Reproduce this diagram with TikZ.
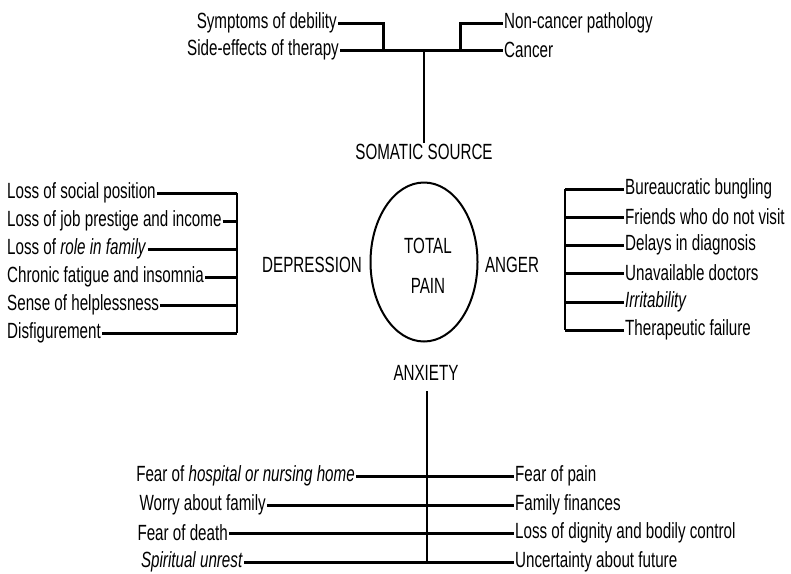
\documentclass[tikz,border=0pt]{standalone}
\usepackage{fontspec}
\usetikzlibrary{shapes.geometric}
\setmainfont[FakeStretch=0.69]{Liberation Sans}
\begin{document}
\begin{tikzpicture}[x=1pt,y=-1pt,
  lbl/.style={inner sep=1pt,font=\fontsize{22}{26}\selectfont},
  caps/.style={inner sep=1pt,font=\fontsize{22}{26}\selectfont},
  branch/.style={line width=3pt},
  trunk/.style={line width=2pt}]
\useasboundingbox (0,0) rectangle (791,573);
% ---- somatic source
\node[lbl,anchor=east] (s1) at (338,23) {Symptoms of debility};
\node[lbl,anchor=east] (s2) at (340,50) {Side-effects of therapy};
\node[lbl,anchor=west] (s3) at (503,23) {Non-cancer pathology};
\node[lbl,anchor=west] (s4) at (503,50) {Cancer};
\coordinate (j1) at (383,50);
\coordinate (j2) at (460,50);
\coordinate (jt) at (424,50);
\node[caps] (som) at (424,152) {SOMATIC SOURCE};
\draw[branch] (s1.east) -| (j1);
\draw[branch] (s2.east) -- (s4.west);
\draw[branch] (s3.west) -| (j2);
\draw[trunk] (jt) -- (som.north);
% ---- centre
\node[draw,ellipse,line width=2pt,minimum width=107pt,minimum height=159pt,inner sep=0pt] (tp) at (424,262) {};
\node[caps] (tot) at (428,246) {TOTAL};
\node[caps] (pain) at (428,286) {PAIN};
\node[caps] (dep) at (312,265) {DEPRESSION};
\node[caps] (ang) at (512,265) {ANGER};
\node[caps] (anx) at (426,373) {ANXIETY};
% ---- depression
\coordinate (dt) at (237,193);
\coordinate (db) at (237,333);
\node[lbl,anchor=west] (d1) at (6,193) {Loss of social position};
\node[lbl,anchor=west] (d2) at (6,221) {Loss of job prestige and income};
\node[lbl,anchor=west] (d3) at (6,249) {Loss of \textit{role in family}};
\node[lbl,anchor=west] (d4) at (6,277) {Chronic fatigue and insomnia};
\node[lbl,anchor=west] (d5) at (6,305) {Sense of helplessness};
\node[lbl,anchor=west] (d6) at (6,333) {Disfigurement};
\foreach \n in {d1,d2,d3,d4,d5,d6} \draw[branch] (\n.east) -- (\n.east -| dt);
\draw[trunk] (dt) -- (db);
% ---- anger
\coordinate (at) at (565,189);
\coordinate (ab) at (565,330);
\node[lbl,anchor=west] (a1) at (624,189) {Bureaucratic bungling};
\node[lbl,anchor=west] (a2) at (624,217) {Friends who do not visit};
\node[lbl,anchor=west] (a3) at (624,245) {Delays in diagnosis};
\node[lbl,anchor=west] (a4) at (624,273) {Unavailable doctors};
\node[lbl,anchor=west] (a5) at (624,302) {\textit{Irritability}};
\node[lbl,anchor=west] (a6) at (624,330) {Therapeutic failure};
\foreach \n in {a1,a2,a3,a4,a5,a6} \draw[branch] (\n.west) -- (\n.west -| at);
\draw[trunk] (at) -- (ab);
% ---- anxiety
\node[lbl,anchor=east] (x1) at (356,476) {Fear of \textit{hospital or nursing home}};
\node[lbl,anchor=east] (x2) at (267,505) {Worry about family};
\node[lbl,anchor=east] (x3) at (229,533) {Fear of death};
\node[lbl,anchor=east] (x4) at (244,562) {\textit{Spiritual unrest}};
\node[lbl,anchor=west] (y1) at (514,476) {Fear of pain};
\node[lbl,anchor=west] (y2) at (514,505) {Family finances};
\node[lbl,anchor=west] (y3) at (514,533) {Loss of dignity and bodily control};
\node[lbl,anchor=west] (y4) at (514,562) {Uncertainty about future};
\coordinate (xt) at (427,391);
\coordinate (xb) at (427,562);
\draw[trunk] (xt) -- (xb);
\draw[branch] (x1.east) -- (y1.west);
\draw[branch] (x2.east) -- (y2.west);
\draw[branch] (x3.east) -- (y3.west);
\draw[branch] (x4.east) -- (y4.west);
\end{tikzpicture}
\end{document}
